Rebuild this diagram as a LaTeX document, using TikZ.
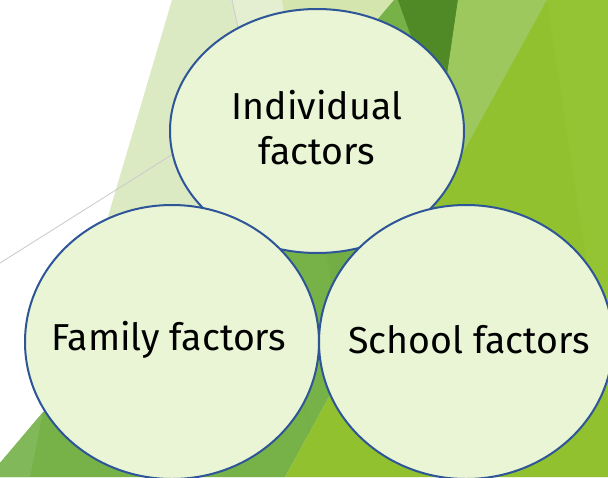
\documentclass[tikz,border=0pt]{standalone}
\usepackage{fontspec}
\setmainfont{Fira Sans}
\usetikzlibrary{shapes.geometric}

\definecolor{paleleaf}{HTML}{DCEAC3}
\definecolor{paleleaflight}{HTML}{E4EFD2}
\definecolor{paleleafdeep}{HTML}{D4E5AE}
\definecolor{midleaf}{HTML}{77B249}
\definecolor{midleafdark}{HTML}{72AE45}
\definecolor{midleaflight}{HTML}{81B95A}
\definecolor{darkleaf}{HTML}{4F8A27}
\definecolor{softleaf}{HTML}{9DC85E}
\definecolor{brightleaf}{HTML}{91C12F}
\definecolor{brightleaflight}{HTML}{94C334}
\definecolor{gridgrey}{HTML}{CDCDCD}
\definecolor{factorfill}{HTML}{E9F5D4}
\definecolor{factorline}{HTML}{2E5597}

\begin{document}
\begin{tikzpicture}[x=1pt,y=-1pt,
  factor/.style={ellipse, draw=factorline, line width=2pt, fill=factorfill,
    inner sep=0pt, minimum width=294pt},
  factortext/.style={align=center, text=black, inner sep=0pt,
    font=\fontsize{37.5}{45}\selectfont},
  gridline/.style={draw=gridgrey, line width=0.9pt}]
\useasboundingbox (0,0) rectangle (608,477);

% faceted green backdrop
\begin{scope}
  \clip (0,0) rectangle (608,477);
  \fill[white] (0,0) rectangle (608,477);
  \fill[paleleaf] (172,0) -- (608,0) -- (608,477) -- (31,477) -- cycle;
  \fill[paleleaflight] (232,0) -- (282,0) -- (292,60) -- (245,60) -- cycle;
  \fill[paleleafdeep] (282,0) -- (394,0) -- (340,60) -- (292,60) -- cycle;
  \draw[gridline] (232,0) -- (245,60);
  \draw[gridline] (0,263) -- (200,137);
  \fill[midleaf] (0,463) -- (394,0) -- (547,0) -- (285,477) -- (0,477) -- cycle;
  \fill[midleaflight] (0,463) -- (43,412) -- (30,477) -- (0,477) -- cycle;
  \fill[midleafdark] (322,230) -- (400,230) -- (400,340) -- (342,340) -- cycle;
  \draw[midleafdark, line width=0.8pt] (300,380) -- (318,477);
  \fill[darkleaf] (398,0) -- (458,0) -- (441,120) -- cycle;
  \fill[softleaf] (458,0) -- (547,0) -- (420,235) -- (430,190) -- cycle;
  \fill[brightleaf] (547,0) -- (608,0) -- (608,477) -- (285,477) -- cycle;
  \fill[brightleaflight] (547,0) -- (608,0) -- (608,405) -- cycle;
\end{scope}

% the three factor ellipses, the top one lying beneath the other two
\begin{scope}
  \clip (-2,-2) rectangle (608,477);
  \node[factor, minimum height=244pt] (individual) at (317,131) {};
  \node[factor, minimum height=274pt] (family) at (172,342) {};
  \node[factor, minimum height=274pt] (school) at (466,342) {};
\end{scope}

% their labels
\node[factortext] (individual-text) at ([yshift=3pt]individual.center) {Individual\\factors};
\node[factortext] (family-text) at ([xshift=-3pt,yshift=2pt]family.center) {Family factors};
\node[factortext] (school-text) at ([xshift=3pt,yshift=2pt]school.center) {School factors};
\end{tikzpicture}
\end{document}
